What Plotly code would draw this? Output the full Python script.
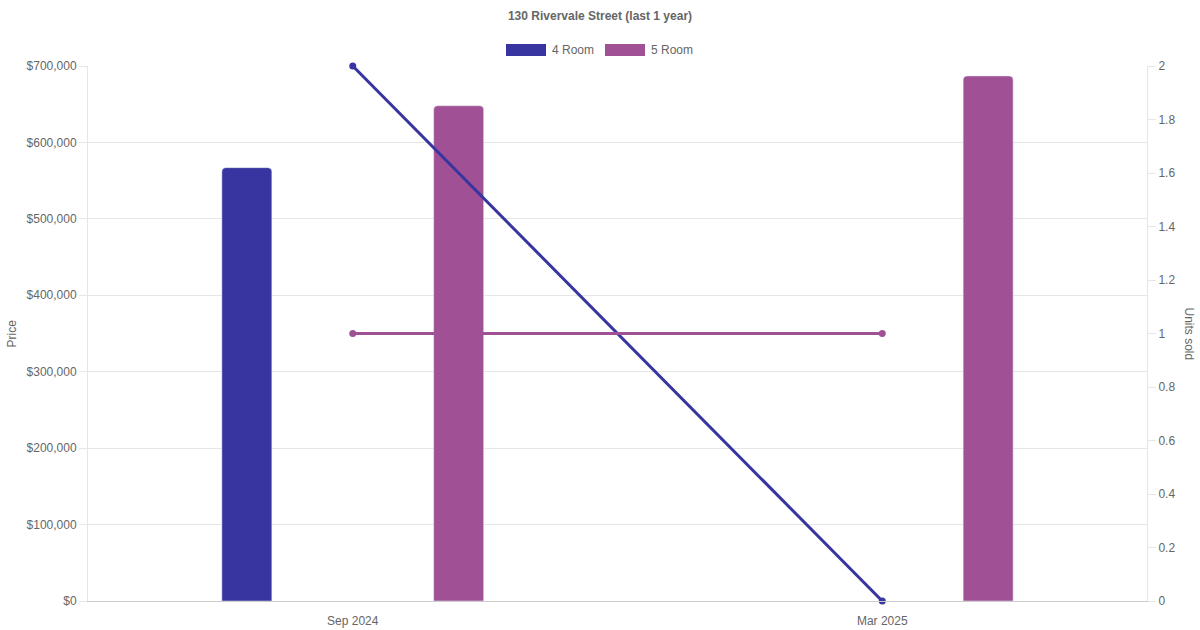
import plotly.graph_objects as go

# ---- data ----
months = ["Sep 2024", "Mar 2025"]
price_4room = [567000, None]
price_5room = [648000, 687000]
units_4room = [2, 0]
units_5room = [1, 1]
price_ticks = [0, 100000, 200000, 300000, 400000, 500000, 600000, 700000]
price_ticktext = ["$0", "$100,000", "$200,000", "$300,000", "$400,000", "$500,000", "$600,000", "$700,000"]
units_ticks = [0, 0.2, 0.4, 0.6, 0.8, 1, 1.2, 1.4, 1.6, 1.8, 2]
units_ticktext = ["0", "0.2", "0.4", "0.6", "0.8", "1", "1.2", "1.4", "1.6", "1.8", "2"]
series_names = ["4 Room", "5 Room"]
colors = ["#3835a0", "#a05195"]

FONT = "Liberation Sans, Arial, sans-serif"
TXT = "#666666"
GRID = "#e6e6e6"

fig = go.Figure()

for name, vals, col in zip(series_names, [price_4room, price_5room], colors):
    fig.add_trace(go.Bar(
        x=months, y=vals, name=name, marker=dict(color=col, cornerradius=4),
        yaxis="y", showlegend=False, legendgroup=name,
    ))

for name, vals, col in zip(series_names, [units_4room, units_5room], colors):
    fig.add_trace(go.Scatter(
        x=months, y=vals, name=name, mode="lines+markers", cliponaxis=False,
        line=dict(color=col, width=3), marker=dict(color=col, size=7),
        yaxis="y2", showlegend=False, legendgroup=name,
    ))

# plot-area geometry (px) for placing decorations in paper coords
W, H = 1200, 630
L, R, T, B = 88, 53, 66, 29
pw, ph = W - L - R, H - T - B

def px_x(x):
    return (x - L) / pw

def px_y(y):
    return (H - B - y) / ph

shapes = []
annotations = []
legend_boxes = [(506, 546, 550), (605, 645, 649)]
for (x0, x1, tx), name, col in zip(legend_boxes, series_names, colors):
    shapes.append(dict(type="rect", xref="paper", yref="paper",
                       x0=px_x(x0), x1=px_x(x1), y0=px_y(56), y1=px_y(44),
                       fillcolor=col, line=dict(width=0)))
    annotations.append(dict(text=name, xref="paper", yref="paper",
                            x=px_x(tx), y=px_y(50), xanchor="left", yanchor="middle",
                            showarrow=False, font=dict(family=FONT, size=12, color=TXT)))

annotations.append(dict(text="Price", xref="paper", yref="paper", x=px_x(11), y=0.5,
                        textangle=-90, showarrow=False, xanchor="center", yanchor="middle",
                        font=dict(family=FONT, size=12, color=TXT)))
annotations.append(dict(text="Units sold", xref="paper", yref="paper", x=px_x(1189), y=0.5,
                        textangle=90, showarrow=False, xanchor="center", yanchor="middle",
                        font=dict(family=FONT, size=12, color=TXT)))

fig.update_layout(
    width=W, height=H,
    margin=dict(l=L, r=R, t=T, b=B),
    paper_bgcolor="white", plot_bgcolor="white",
    font=dict(family=FONT, size=12, color=TXT),
    title=dict(text="<b>130 Rivervale Street (last 1 year)</b>", x=0.5, xanchor="center",
               y=1 - 16 / H, yanchor="middle", font=dict(family=FONT, size=12, color=TXT)),
    barmode="group", bargap=0.2, bargroupgap=0.764,
    showlegend=False,
    xaxis=dict(type="category", showgrid=False, showline=True, linecolor="#cccccc",
               linewidth=1, ticks="outside", ticklen=9, tickcolor="rgba(0,0,0,0)",
               tickfont=dict(size=12, color=TXT), zeroline=False, automargin=False),
    yaxis=dict(range=[0, 700000], tickvals=price_ticks, ticktext=price_ticktext,
               showgrid=True, gridcolor=GRID, zeroline=False, showline=True, linecolor=GRID,
               ticks="outside", ticklen=8, tickcolor=GRID, tickfont=dict(size=12, color=TXT),
               automargin=False),
    yaxis2=dict(range=[0, 2], tickvals=units_ticks, ticktext=units_ticktext, overlaying="y",
                side="right", showgrid=False, zeroline=False, showline=True, linecolor=GRID,
                ticks="outside", ticklen=8, tickcolor=GRID, tickfont=dict(size=12, color=TXT),
                automargin=False),
    shapes=shapes, annotations=annotations,
)

fig.write_html("out.html", config={"displayModeBar": False},
               post_script="document.body.style.margin='0';")
